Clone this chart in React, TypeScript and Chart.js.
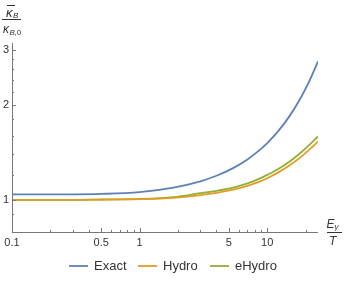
import React, { useEffect, useRef } from "react";
import { Chart, registerables } from "chart.js";

Chart.register(...registerables);

const xValues = [0.1, 0.3, 0.5, 1, 1.84, 3, 4, 5.4, 7, 8.8, 10, 12.2, 15, 18.1, 21, 25];
const exactValues = [1.04, 1.041, 1.044, 1.058, 1.094, 1.145, 1.192, 1.261, 1.344, 1.443, 1.514, 1.652, 1.848, 2.09, 2.347, 2.753];
const hydroValues = [1.0, 1.0, 1.001, 1.0046, 1.014, 1.035, 1.052, 1.077, 1.108, 1.144, 1.171, 1.222, 1.288, 1.361, 1.435, 1.531];
const eHydroValues = [1.0, 1.0, 1.002, 1.006, 1.02, 1.05, 1.068, 1.093, 1.127, 1.17, 1.2, 1.253, 1.324, 1.406, 1.483, 1.589];

const xMajorTicks = [0.1, 0.5, 1, 5, 10];
const xMajorLabels = ["0.1", "0.5", "1", "5", "10"];
const xMinorTicks = [0.2, 0.3, 0.4, 0.6, 0.7, 0.8, 0.9, 2, 3, 4, 6, 7, 8, 9, 20];
const yMajorTicks = [1, 2, 3];
const yMajorLabels = ["1", "2", "3"];
const yMinorTicks = [0.9, 1.2, 1.4, 1.6, 1.8, 2.2, 2.4, 2.6, 2.8];

const seriesNames = ["Exact", "Hydro", "eHydro"];
const seriesColors = ["#5E81B5", "#E19C24", "#8FB032"];

const FONT = '"Liberation Sans", Arial, sans-serif';

const axesPlugin = {
  id: "mmaAxes",
  afterDraw(chart: any) {
    const ctx = chart.ctx as CanvasRenderingContext2D;
    const { left, right, top, bottom } = chart.chartArea;
    const xs = chart.scales.x;
    const ys = chart.scales.y;
    ctx.save();
    ctx.strokeStyle = "#777";
    ctx.lineWidth = 1;
    ctx.beginPath();
    ctx.moveTo(left, bottom + 0.5);
    ctx.lineTo(right, bottom + 0.5);
    ctx.moveTo(left + 0.5, bottom);
    ctx.lineTo(left + 0.5, top);
    ctx.stroke();
    ctx.beginPath();
    xMajorTicks.forEach((v) => {
      const px = Math.round(xs.getPixelForValue(v)) + 0.5;
      ctx.moveTo(px, bottom);
      ctx.lineTo(px, bottom - 4);
    });
    xMinorTicks.forEach((v) => {
      const px = Math.round(xs.getPixelForValue(v)) + 0.5;
      ctx.moveTo(px, bottom);
      ctx.lineTo(px, bottom - 2);
    });
    yMajorTicks.forEach((v) => {
      const py = Math.round(ys.getPixelForValue(v)) + 0.5;
      ctx.moveTo(left, py);
      ctx.lineTo(left + 4, py);
    });
    yMinorTicks.forEach((v) => {
      const py = Math.round(ys.getPixelForValue(v)) + 0.5;
      ctx.moveTo(left, py);
      ctx.lineTo(left + 2, py);
    });
    ctx.stroke();

    ctx.fillStyle = "#333";
    ctx.font = `11px ${FONT}`;
    ctx.textAlign = "center";
    ctx.textBaseline = "middle";
    xMajorTicks.forEach((v, i) => {
      ctx.fillText(xMajorLabels[i], xs.getPixelForValue(v), bottom + 11);
    });
    ctx.textAlign = "right";
    yMajorTicks.forEach((v, i) => {
      ctx.fillText(yMajorLabels[i], left - 3, ys.getPixelForValue(v));
    });

    ctx.textAlign = "left";
    ctx.textBaseline = "alphabetic";
    ctx.font = `italic 12px ${FONT}`;
    ctx.fillText("E", 326.5, 228);
    ctx.font = `italic 8px ${FONT}`;
    ctx.fillText("γ", 334.5, 229);
    ctx.font = `italic 12px ${FONT}`;
    ctx.fillText("T", 329, 245);
    ctx.strokeStyle = "#333";
    ctx.beginPath();
    ctx.moveTo(327, 232.5);
    ctx.lineTo(342, 232.5);
    ctx.stroke();

    ctx.font = `italic 13px ${FONT}`;
    ctx.fillText("κ", 6, 17);
    ctx.beginPath();
    ctx.moveTo(7, 5.5);
    ctx.lineTo(15, 5.5);
    ctx.stroke();
    ctx.font = `italic 8px ${FONT}`;
    ctx.fillText("B", 13, 18);
    ctx.beginPath();
    ctx.moveTo(2, 19.5);
    ctx.lineTo(21, 19.5);
    ctx.stroke();
    ctx.font = `italic 12px ${FONT}`;
    ctx.fillText("κ", 3, 33);
    ctx.font = `italic 8px ${FONT}`;
    ctx.fillText("B", 9.5, 35);
    ctx.font = `8px ${FONT}`;
    ctx.fillText(",0", 14.5, 35);

    const legendY = 266;
    const lineStarts = [69, 138, 210];
    ctx.font = `13px ${FONT}`;
    ctx.textBaseline = "middle";
    seriesNames.forEach((name, i) => {
      const x0 = lineStarts[i];
      ctx.strokeStyle = seriesColors[i];
      ctx.lineWidth = 1.8;
      ctx.beginPath();
      ctx.moveTo(x0, legendY);
      ctx.lineTo(x0 + 19, legendY);
      ctx.stroke();
      ctx.fillStyle = "#333";
      ctx.fillText(name, x0 + 25, legendY + 0.5);
    });
    ctx.restore();
  },
};

export default function App() {
  const ref = useRef<HTMLCanvasElement | null>(null);
  useEffect(() => {
    document.body.style.margin = "0";
    const canvas = ref.current;
    if (!canvas) return;
    const series = [exactValues, hydroValues, eHydroValues];
    const chart = new Chart(canvas, {
      type: "line",
      data: {
        datasets: series.map((vals, i) => ({
          label: seriesNames[i],
          data: xValues.map((x, j) => ({ x, y: vals[j] })),
          borderColor: seriesColors[i],
          backgroundColor: seriesColors[i],
          borderWidth: 1.8,
          pointRadius: 0,
          cubicInterpolationMode: "monotone" as const,
          fill: false,
        })),
      },
      options: {
        animation: false,
        responsive: false,
        devicePixelRatio: 1,
        layout: { padding: { left: 12, right: 29, top: 43, bottom: 50 } },
        scales: {
          x: { type: "logarithmic", min: 0.1, max: 25, display: false },
          y: { type: "logarithmic", min: 0.79, max: 3.15, display: false },
        },
        plugins: { legend: { display: false }, tooltip: { enabled: false } },
      },
      plugins: [axesPlugin],
    });
    return () => chart.destroy();
  }, []);
  return <canvas ref={ref} width={347} height={282} style={{ display: "block" }} />;
}
